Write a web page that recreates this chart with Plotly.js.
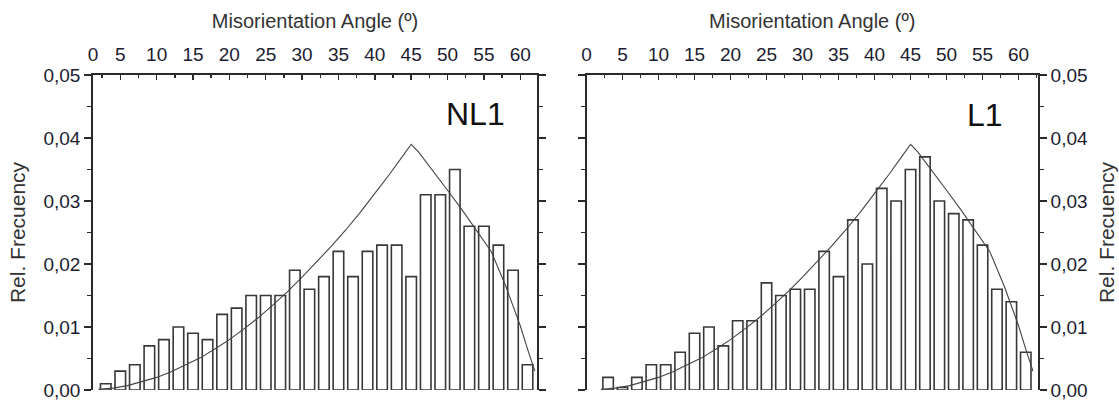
<!DOCTYPE html>
<html>
<head>
<meta charset="utf-8">
<script src="https://cdn.plot.ly/plotly-3.0.1.min.js"></script>
<style>html,body{margin:0;padding:0;background:#fff;}#chart{width:1119px;height:405px;}</style>
</head>
<body>
<div id="chart"></div>
<script>
// Bin centres (degrees)
const angles = [3,5,7,9,11,13,15,17,19,21,23,25,27,29,31,33,35,37,39,41,43,45,47,49,51,53,55,57,59,61];
// NL1 relative frequencies
const nl1 = [0.001,0.003,0.004,0.007,0.008,0.010,0.009,0.008,0.012,0.013,0.015,0.015,0.015,0.019,0.016,
             0.018,0.022,0.018,0.022,0.023,0.023,0.018,0.031,0.031,0.035,0.026,0.026,0.023,0.019,0.004];
// L1 relative frequencies
const l1 = [0.002,0.0004,0.002,0.004,0.004,0.006,0.009,0.010,0.007,0.011,0.011,0.017,0.015,0.016,0.016,
            0.022,0.018,0.027,0.020,0.032,0.030,0.035,0.037,0.030,0.028,0.027,0.023,0.016,0.014,0.006];
// Reference (random) distribution curve
const curveX = [2,4,6,8,10,12,14,16,18,20,22,24,26,28,30,32,34,36,38,40,42,44,45,46,48,50,52,54,56,58,60,61,62];
const curveY = [0.0001,0.0003,0.0007,0.0013,0.0020,0.0029,0.0040,0.0051,0.0065,0.0080,0.0097,0.0115,0.0135,0.0156,
                0.0179,0.0203,0.0228,0.0254,0.0282,0.0312,0.0342,0.0374,0.0390,0.0378,0.0348,0.0317,0.0286,0.0253,
                0.0220,0.0165,0.0102,0.0065,0.0030];
const xTickLabels = [0,5,10,15,20,25,30,35,40,45,50,55,60];
const yTickVals = [0,0.01,0.02,0.03,0.04,0.05];

const panelLabels = ['NL1','L1'];
const xTitle = 'Misorientation Angle (º)';
const yTitle = 'Rel. Frecuency';

const leftRange = [1.25, 62.3];
const rightRange = [0, 62.7];
const textColor = '#1c1c30';
const lineColor = '#2a2a2a';
const font = 'Liberation Sans, Arial, sans-serif';

const barStyle = {color:'#ffffff', line:{color:'#383838', width:1.6}};
const traces = [
  {type:'bar', x:angles, y:nl1, width:1.45, marker:barStyle, xaxis:'x', yaxis:'y'},
  {type:'scatter', mode:'lines', x:curveX, y:curveY, line:{color:'#444', width:1.1}, xaxis:'x', yaxis:'y'},
  {type:'bar', x:angles, y:l1, width:1.45, marker:barStyle, xaxis:'x2', yaxis:'y2'},
  {type:'scatter', mode:'lines', x:curveX, y:curveY, line:{color:'#444', width:1.1}, xaxis:'x2', yaxis:'y2'}
];

function topX(domain, range, yref){
  const vals = xTickLabels.map(v => Math.max(v, range[0]));
  return {
    domain: domain, range: range, anchor: yref, side:'top',
    tickmode:'array', tickvals: vals, ticktext: xTickLabels.map(String),
    ticks:'inside', ticklen:5, tickwidth:1.4, tickcolor:lineColor,
    minor:{dtick:2.5, tick0:0, ticks:'inside', ticklen:3, tickcolor:lineColor, tickwidth:1.4},
    showline:true, linecolor:lineColor, linewidth:1.8, mirror:false,
    showgrid:false, zeroline:false, ticklabelstandoff:5,
    tickfont:{family:font, size:19, color:textColor},
    title:{text:xTitle, font:{family:font, size:20, color:'#333'}, standoff:9}
  };
}
function bottomX(domain, range, yref, over){
  return {
    domain: domain, range: range, anchor: yref, side:'bottom', overlaying: over,
    tickmode:'linear', tick0:0, dtick:5,
    ticks:'outside', ticklen:5, tickwidth:1.4, tickcolor:lineColor,
    minor:{dtick:2.5, tick0:0, ticks:'outside', ticklen:4, tickcolor:lineColor, tickwidth:1.4},
    showticklabels:false, showline:true, linecolor:lineColor, linewidth:1.8,
    showgrid:false, zeroline:false
  };
}
function yAx(side, xref){
  return {
    domain:[15/405, 330/405], range:[0,0.05], anchor:xref, side:side,
    tickmode:'array', tickvals:yTickVals, tickformat:'.2f',
    ticks:'outside', ticklen:7, tickwidth:1.4, tickcolor:lineColor,
    minor:{dtick:0.005, tick0:0, ticks:'outside', ticklen:4, tickcolor:lineColor, tickwidth:1.4},
    showline:true, linecolor:lineColor, linewidth:1.8, mirror:'ticks',
    showgrid:false, zeroline:false,
    tickfont:{family:font, size:19, color:textColor},
    title:{text:yTitle, font:{family:font, size:21, color:'#333'}, standoff:12}
  };
}

const leftDom = [93/1119, 537/1119];
const rightDom = [586.5/1119, 1038/1119];

const layout = {
  width:1119, height:405,
  margin:{l:0, r:0, t:0, b:0},
  paper_bgcolor:'#fff', plot_bgcolor:'#fff',
  separators:', ',
  showlegend:false, barmode:'overlay', bargap:0,
  xaxis: topX(leftDom, leftRange, 'y'),
  xaxis2: topX(rightDom, rightRange, 'y2'),
  xaxis3: bottomX(leftDom, leftRange, 'y', 'x'),
  xaxis4: bottomX(rightDom, rightRange, 'y2', 'x2'),
  yaxis: yAx('left', 'x'),
  yaxis2: yAx('right', 'x2'),
  annotations:[
    {text:panelLabels[0], xref:'paper', yref:'paper', x:507/1119, y:1-114/405, xanchor:'right', yanchor:'middle',
     showarrow:false, font:{family:font, size:32, color:'#111'}},
    {text:panelLabels[1], xref:'paper', yref:'paper', x:1005/1119, y:1-115/405, xanchor:'right', yanchor:'middle',
     showarrow:false, font:{family:font, size:32, color:'#111'}}
  ]
};

Plotly.newPlot('chart', traces, layout, {staticPlot:true});
</script>
</body>
</html>
